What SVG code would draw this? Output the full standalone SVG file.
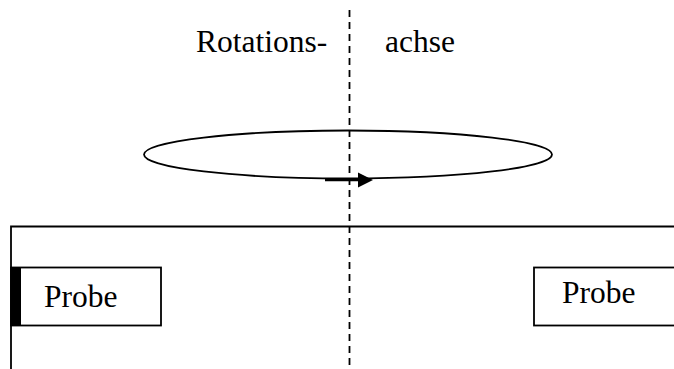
<svg xmlns="http://www.w3.org/2000/svg" width="674" height="369" viewBox="0 0 674 369">
<style>
.l{fill:none;stroke:#000;stroke-width:1.8}
.t{font-family:"Liberation Serif","Times New Roman",serif;font-size:31.5px;fill:#000}
</style>
<rect width="674" height="369" fill="#fff"/>
<g id="connectors">
<path class="l" d="M11 369V226.500H674"/>
<path d="M349.500 10V369" fill="none" stroke="#000" stroke-width="1.800" stroke-dasharray="7 5"/>
<ellipse id="rotation-path" class="l" cx="348" cy="154.500" rx="204" ry="24"/>
<path d="M325 180H358" stroke="#000" stroke-width="2.500" fill="none"/>
<path d="M358 172.500L373 180L358 187.500Z" fill="#000"/>
</g>
<g id="label-rotations"><text class="t" x="196" y="52">Rotations-</text></g>
<g id="label-achse"><text class="t" x="385" y="52">achse</text></g>
<g id="probe-left">
<rect class="l" x="11" y="267.500" width="150" height="58"/>
<rect x="11" y="267" width="10" height="59" fill="#000"/>
<text class="t" x="44" y="307">Probe</text>
</g>
<g id="probe-right">
<rect class="l" x="534" y="267.500" width="150" height="58"/>
<text class="t" x="562" y="303">Probe</text>
</g>
</svg>
